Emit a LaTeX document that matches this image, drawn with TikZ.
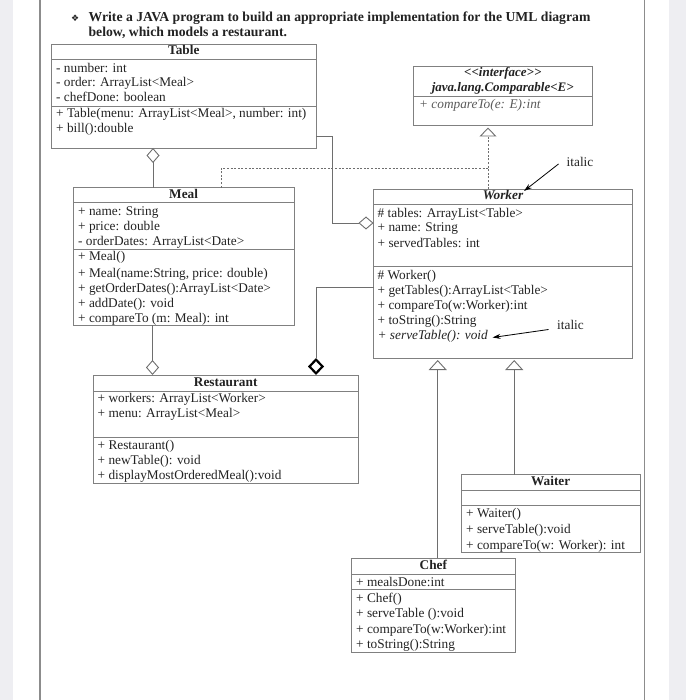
\documentclass[tikz,border=0pt]{standalone}
\usepackage{fontspec}
\setmainfont{Liberation Serif}
\newfontfamily\dejavu{DejaVu Sans}
\usetikzlibrary{arrows.meta}
\definecolor{boxgray}{HTML}{808080}
\definecolor{linegray}{HTML}{6E6E6E}
\definecolor{ink}{HTML}{222222}
\definecolor{pagegray}{HTML}{EEEEF2}
\definecolor{framegray}{HTML}{8C8C8C}
\begin{document}
\begin{tikzpicture}[x=1pt,y=-1pt,
  box/.style={draw=boxgray, line width=0.8pt, anchor=north west, inner sep=0pt, outer sep=0pt},
  sep/.style={draw=boxgray, line width=0.8pt},
  txt/.style={anchor=west, inner sep=0pt, font=\fontsize{13.3}{15}\selectfont, text height=9pt, text depth=3pt, text=ink},
  hdr/.style={txt, anchor=center, font=\fontsize{13.3}{15}\selectfont\bfseries},
  ttl/.style={txt, font=\fontsize{13.7}{15}\selectfont\bfseries},
  conn/.style={draw=linegray, line width=0.9pt},
  agg/.style={conn, -{Diamond[open, length=15pt, width=13pt, line width=0.9pt]}},
  comp/.style={conn, -{Diamond[open, length=17pt, width=16pt, line width=2.2pt, color=black]}},
  gen/.style={conn, -{Triangle[open, length=10pt, width=18pt, line width=0.9pt]}},
  realz/.style={conn, dash pattern=on 2pt off 1.6pt},
  note/.style={draw=black, line width=0.8pt, -{Stealth[length=8pt, width=5pt]}}
]
\useasboundingbox (0,0) rectangle (686,700);
% page
\fill[pagegray] (0,0) rectangle (13,700);
\fill[pagegray] (669,0) rectangle (686,700);
\draw[framegray, line width=1.4pt] (40,0) -- (40,700);
\draw[framegray, line width=1.4pt] (644.5,0) -- (644.5,700);

% title
\node[txt, font=\dejavu\fontsize{9}{10}\selectfont] (bul) at (71,19) {❖};
\node[ttl] (ttl1) at (88.4,19) {Write a JAVA program to build an appropriate implementation for the UML diagram};
\node[ttl] (ttl2) at (88.4,33.5) {below, which models a restaurant.};

% ---------- Table ----------
\node[box, minimum width=264.3pt, minimum height=103.5pt] (table) at (51.7,44.5) {};
\draw[sep] (table.west |- 0,59.4) -- (table.east |- 0,59.4);
\draw[sep] (table.west |- 0,106) -- (table.east |- 0,106);
\node[hdr] (tableh) at (183.8,52) {Table};
\node[txt] (ta1) at (56,69.2) {- number: int};
\node[txt] (ta2) at (56,84) {- order: ArrayList<Meal>};
\node[txt] (ta3) at (56,99) {- chefDone: boolean};
\node[txt] (tm1) at (56,114.7) {+ Table(menu: ArrayList<Meal>, number: int)};
\node[txt] (tm2) at (56,130) {+ bill():double};

% ---------- Interface ----------
\node[box, minimum width=179.6pt, minimum height=58.7pt] (iface) at (413,66.3) {};
\draw[sep] (iface.west |- 0,96.5) -- (iface.east |- 0,96.5);
\node[hdr, font=\fontsize{13}{15}\selectfont\bfseries\itshape] (ifs) at (502.8,74) {{<}{<}interface{>}{>}};
\node[hdr, font=\fontsize{13}{15}\selectfont\bfseries\itshape] (ifn) at (502.8,89) {java.lang.Comparable<E>};
\node[txt, font=\fontsize{13.3}{15}\selectfont\itshape, text=ink!75] (ifm) at (419,106) {+ compareTo(e: E):int};

% ---------- Meal ----------
\node[box, minimum width=220.7pt, minimum height=137.6pt] (meal) at (73.3,187.7) {};
\draw[sep] (meal.west |- 0,202.7) -- (meal.east |- 0,202.7);
\draw[sep] (meal.west |- 0,249) -- (meal.east |- 0,249);
\node[hdr] (mealh) at (183.6,196) {Meal};
\node[txt] (ma1) at (78,212.3) {+ name: String};
\node[txt] (ma2) at (78,227.3) {+ price: double};
\node[txt] (ma3) at (78,242.3) {- orderDates: ArrayList<Date>};
\node[txt] (mm1) at (78,258) {+ Meal()};
\node[txt] (mm2) at (78,274) {+ Meal(name:String, price: double)};
\node[txt] (mm3) at (78,289.3) {+ getOrderDates():ArrayList<Date>};
\node[txt] (mm4) at (78,304.3) {+ addDate(): void};
\node[txt] (mm5) at (78,319.8) {+ compareTo (m: Meal): int};

% ---------- Worker ----------
\node[box, minimum width=259.2pt, minimum height=169.2pt] (worker) at (373.5,189.3) {};
\draw[sep] (worker.west |- 0,204.5) -- (worker.east |- 0,204.5);
\draw[sep] (worker.west |- 0,266) -- (worker.east |- 0,266);
\node[hdr, font=\fontsize{13.3}{15}\selectfont\bfseries\itshape] (workerh) at (503,197) {Worker};
\node[txt] (wa1) at (377.5,215) {\# tables: ArrayList<Table>};
\node[txt] (wa2) at (377.5,229) {+ name: String};
\node[txt] (wa3) at (377.5,244.3) {+ servedTables: int};
\node[txt] (wm1) at (377.5,276) {\# Worker()};
\node[txt] (wm2) at (377.5,291.7) {+ getTables():ArrayList<Table>};
\node[txt] (wm3) at (377.5,306.7) {+ compareTo(w:Worker):int};
\node[txt] (wm4) at (377.5,321.7) {+ toString():String};
\node[txt, font=\fontsize{13.3}{15}\selectfont\itshape] (wm5) at (377.5,336.7) {+ serveTable(): void};

% ---------- Restaurant ----------
\node[box, minimum width=265.7pt, minimum height=108.8pt] (rest) at (92.9,375) {};
\draw[sep] (rest.west |- 0,391) -- (rest.east |- 0,391);
\draw[sep] (rest.west |- 0,437.3) -- (rest.east |- 0,437.3);
\node[hdr] (resth) at (225.7,383.3) {Restaurant};
\node[txt] (ra1) at (97.5,399) {+ workers: ArrayList<Worker>};
\node[txt] (ra2) at (97.5,414) {+ menu: ArrayList<Meal>};
\node[txt] (rm1) at (97.5,446.3) {+ Restaurant()};
\node[txt] (rm2) at (97.5,461.7) {+ newTable(): void};
\node[txt] (rm3) at (97.5,476.5) {+ displayMostOrderedMeal():void};

% ---------- Waiter ----------
\node[box, minimum width=179.5pt, minimum height=77.3pt] (waiter) at (461,474.7) {};
\draw[sep] (waiter.west |- 0,490) -- (waiter.east |- 0,490);
\draw[sep] (waiter.west |- 0,505.7) -- (waiter.east |- 0,505.7);
\node[hdr] (waiterh) at (550.7,482.5) {Waiter};
\node[txt] (wt1) at (466,514.5) {+ Waiter()};
\node[txt] (wt2) at (466,530.5) {+ serveTable():void};
\node[txt] (wt3) at (466,546) {+ compareTo(w: Worker): int};

% ---------- Chef ----------
\node[box, minimum width=164.8pt, minimum height=93.6pt] (chef) at (351,558.4) {};
\draw[sep] (chef.west |- 0,574.3) -- (chef.east |- 0,574.3);
\draw[sep] (chef.west |- 0,589.3) -- (chef.east |- 0,589.3);
\node[hdr] (chefh) at (433.4,566.5) {Chef};
\node[txt] (ca1) at (356,583) {+ mealsDone:int};
\node[txt] (cm1) at (356,599) {+ Chef()};
\node[txt] (cm2) at (356,614.3) {+ serveTable ():void};
\node[txt] (cm3) at (356,630) {+ compareTo(w:Worker):int};
\node[txt] (cm4) at (356,645) {+ toString():String};

% ---------- connectors ----------
\draw[agg] (meal.north -| 153,0) -- (table.south -| 153,0);
\draw[agg] (meal.south -| 152.5,0) -- (rest.north -| 152.5,0);
\draw[agg] (table.east |- 0,136) -- (332.7,136) |- (worker.west |- 0,223);
\draw[comp] (worker.west |- 0,287) -| (rest.north -| 316,0);
\draw[gen, shorten >=1.5pt] (chef.north -| 437.7,0) -- (worker.south -| 437.7,0);
\draw[gen, shorten >=1.5pt] (waiter.north -| 514.2,0) -- (worker.south -| 514.2,0);
\coordinate (join) at (488,168.5);
\draw[realz] (meal.north -| 221,0) |- (join);
\draw[realz, -{Triangle[open, length=9pt, width=17pt, line width=0.9pt]}, shorten >=2.5pt] (worker.north -| 488,0) -- (iface.south -| 488,0);

% ---------- notes ----------
\node[txt, anchor=center] (it1) at (580,164) {italic};
\node[txt, anchor=center] (it2) at (570.5,326.5) {italic};
\coordinate (a1) at (524,191);
\coordinate (a2) at (492.5,337.5);
\draw[note] (it1.west) ++(-8,0) -- (a1);
\draw[note] (it2.west) ++(-8.5,3) -- (a2);
\end{tikzpicture}
\end{document}
